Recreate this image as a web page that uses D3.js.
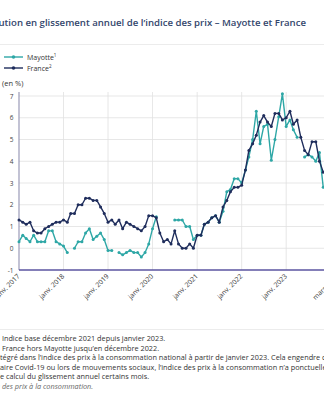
<!DOCTYPE html>
<html lang="fr">
<head>
<meta charset="utf-8">
<script src="https://cdn.jsdelivr.net/npm/d3@7"></script>
<style>
  body { margin: 0; background: #fff; }
  svg { display: block; font-family: 'Open Sans', sans-serif; }
</style>
</head>
<body>
<svg id="chart" width="324" height="400"></svg>
<script>
// monthly values, janv. 2017 -> nov. 2023 (null = non calculé)
const firstMonth = new Date(2017, 0, 1);
const mayotteValues = [
  0.3, 0.6, 0.45, 0.3, 0.6, 0.3, 0.3, 0.3, 0.8, 0.8, 0.3, 0.2,
  0.1, -0.2, null, 0.0, 0.3, 0.3, 0.7, 0.9, 0.4, 0.55, 0.7, 0.4,
  -0.1, -0.1, null, -0.2, -0.3, -0.2, -0.1, -0.2, -0.2, -0.4, -0.2, 0.2,
  0.9, 1.45, null, null, null, null, 1.3, 1.3, 1.3, 1.0, 1.0, 0.4,
  0.6, 0.6, 1.1, 1.2, 1.4, 1.5, 1.2, 1.7, 2.6, 2.7, 3.2, 3.2,
  3.0, 3.6, 4.2, 5.0, 6.3, 4.8, 5.6, 5.7, 4.05, 5.0, 6.05, 7.1,
  5.6, 5.9, 5.45, 5.1, null, 4.2, 4.3, 4.2, 4.0, 4.4, 2.8
];
const franceValues = [
  1.3, 1.2, 1.1, 1.2, 0.8, 0.7, 0.7, 0.9, 1.0, 1.1, 1.2, 1.2,
  1.3, 1.2, 1.6, 1.6, 2.0, 2.0, 2.3, 2.3, 2.2, 2.2, 1.9, 1.6,
  1.2, 1.3, 1.1, 1.3, 0.9, 1.2, 1.1, 1.0, 0.9, 0.8, 1.0, 1.5,
  1.5, 1.4, 0.7, 0.3, 0.4, 0.2, 0.8, 0.2, 0.0, 0.0, 0.2, 0.0,
  0.6, 0.6, 1.1, 1.2, 1.4, 1.5, 1.2, 1.9, 2.2, 2.6, 2.8, 2.8,
  2.9, 3.6, 4.5, 4.8, 5.2, 5.8, 6.1, 5.8, 5.6, 6.2, 6.2, 5.9,
  6.0, 6.3, 5.7, 5.9, 5.1, 4.5, 4.3, 4.9, 4.9, 4.0, 3.5
];
const seriesNames = ["Mayotte", "France"];
const seriesNotes = ["1", "2"];
const seriesColors = ["#2ea7a6", "#1f2d5c"];
const yTicks = [-1, 0, 1, 2, 3, 4, 5, 6, 7];
// x labels: [year, month index]
const xTicks = [[2017, 0], [2018, 0], [2019, 0], [2020, 0], [2021, 0], [2022, 0], [2023, 0], [2024, 2]];
const gridYears = [2018, 2019, 2020, 2021, 2022, 2023, 2024];
const monthNames = ["janv.", "févr.", "mars", "avr.", "mai", "juin", "juil.", "août", "sept.", "oct.", "nov.", "déc."];

const titleText = "Évolution en glissement annuel de l’indice des prix – Mayotte et France";
// [full line, part hidden to the left of the crop]
const notes = [
  ["1. Indice base décembre 2021 depuis janvier 2023.", "1. "],
  ["2. France hors Mayotte jusqu’en décembre 2022.", "2. "],
  ["Note : Mayotte est intégré dans l’indice des prix à la consommation national à partir de janvier 2023. Cela engendre des ruptures.", "Note : Mayotte est in"],
  ["Pendant la crise sanitaire Covid-19 ou lors de mouvements sociaux, l’indice des prix à la consommation n’a ponctuellement pas pu être calculé,", "Pendant la crise sanit"],
  ["empêchant le calcul du glissement annuel certains mois.", "empêchant l"],
  ["Source : Insee, indice des prix à la consommation.", "Source : Insee, indice "]
];

const svg = d3.select("#chart");
const width = 324;

const months = mayotteValues.map((d, i) => d3.timeMonth.offset(firstMonth, i));
const series = [mayotteValues, franceValues].map((vals, k) => ({
  name: seriesNames[k],
  color: seriesColors[k],
  points: vals.map((v, i) => ({ date: months[i], v: v }))
}));

const x = d3.scaleTime()
  .domain([firstMonth, new Date(2024, 2, 1)])
  .range([19, 338]);
const y = d3.scaleLinear().domain([-1, 7]).range([270, 96]);

// title + separator
svg.append("text")
  .attr("x", 306).attr("y", 26)
  .attr("text-anchor", "end")
  .attr("font-size", 9.6).attr("font-weight", 600)
  .attr("fill", "#33466c")
  .text(titleText);
svg.append("line")
  .attr("x1", 0).attr("x2", width).attr("y1", 44.5).attr("y2", 44.5)
  .attr("stroke", "#ececec");

// legend
series.forEach((s, k) => {
  const ly = 57 + k * 11;
  const g = svg.append("g");
  g.append("line").attr("x1", 4).attr("x2", 23).attr("y1", ly).attr("y2", ly)
    .attr("stroke", s.color).attr("stroke-width", 1.4);
  g.append("circle").attr("cx", 13.5).attr("cy", ly).attr("r", 1.8).attr("fill", s.color);
  const t = g.append("text").attr("x", 27).attr("y", ly + 2.5)
    .attr("font-size", 7).attr("fill", "#333").text(s.name);
  t.append("tspan").attr("font-size", 4.5).attr("dy", -3).text(seriesNotes[k]);
});

svg.append("text").attr("x", 2).attr("y", 86)
  .attr("font-size", 7.5).attr("fill", "#333").text("(en %)");

// grid
svg.append("g").selectAll("line").data(yTicks.slice(1)).join("line")
  .attr("x1", 19).attr("x2", width).attr("y1", d => y(d)).attr("y2", d => y(d))
  .attr("stroke", "#e1e1e1").attr("stroke-width", 0.8);
svg.append("g").selectAll("line").data(gridYears).join("line")
  .attr("x1", d => x(new Date(d, 0, 1))).attr("x2", d => x(new Date(d, 0, 1)))
  .attr("y1", 92).attr("y2", 270)
  .attr("stroke", "#e1e1e1").attr("stroke-width", 0.8);

// y labels
svg.append("g").selectAll("text").data(yTicks).join("text")
  .attr("x", 13.5).attr("y", d => y(d) + 2.5)
  .attr("text-anchor", "end").attr("font-size", 6.5).attr("fill", "#444")
  .text(d => d);

// axes lines
svg.append("line").attr("x1", 19).attr("x2", 19).attr("y1", 92).attr("y2", 270)
  .attr("stroke", "#9a9ab8").attr("stroke-width", 1.2);

// x axis with rotated labels
const xAxis = d3.axisBottom(x)
  .tickValues(xTicks.map(t => new Date(t[0], t[1], 1)))
  .tickSize(0)
  .tickFormat(d => monthNames[d.getMonth()] + " " + d.getFullYear());
const gx = svg.append("g").attr("transform", "translate(0,270)").call(xAxis);
gx.select(".domain").attr("stroke", "#5b55a0").attr("stroke-width", 1.4)
  .attr("d", "M19,0H" + width);
gx.selectAll("text")
  .attr("font-family", "'Open Sans', sans-serif")
  .attr("font-size", 6.8).attr("fill", "#333")
  .attr("text-anchor", "end")
  .attr("transform", "translate(0,4) rotate(-45)")
  .attr("dy", "0.35em").attr("dx", "-0.2em").attr("y", 0);

// lines
const line = d3.line()
  .defined(d => d.v != null)
  .x(d => x(d.date)).y(d => y(d.v));

series.forEach(s => {
  svg.append("path").datum(s.points)
    .attr("fill", "none").attr("stroke", s.color).attr("stroke-width", 1.4)
    .attr("stroke-linejoin", "round")
    .attr("d", line);
  svg.append("g").selectAll("circle").data(s.points.filter(d => d.v != null)).join("circle")
    .attr("cx", d => x(d.date)).attr("cy", d => y(d.v)).attr("r", 1.5)
    .attr("fill", s.color);
});

// notes
svg.append("line")
  .attr("x1", 0).attr("x2", width).attr("y1", 329.5).attr("y2", 329.5)
  .attr("stroke", "#ececec");
notes.forEach((n, i) => {
  const italic = i === notes.length - 1;
  const t = svg.append("text")
    .attr("y", 341 + i * 9.6)
    .attr("font-size", 7.3)
    .attr("font-style", italic ? "italic" : null)
    .attr("fill", italic ? "#666" : "#333")
    .text(n[1]);
  const hidden = t.node().getComputedTextLength();
  t.text(n[0]).attr("x", -hidden);
});
</script>
</body>
</html>
